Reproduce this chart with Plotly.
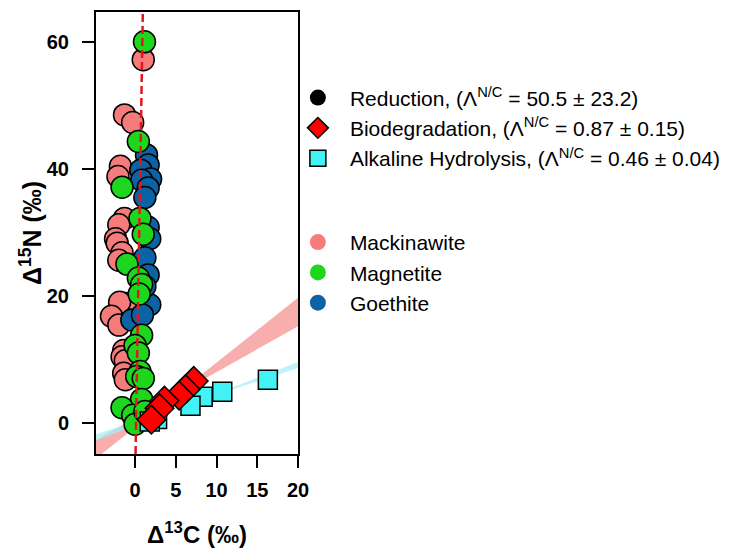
import numpy as np
import plotly.graph_objects as go

# ---------------- data ----------------
mack_x = [1.0, -1.3, -0.3, -1.8, -2.1, -1.3, -2.0, -2.4, -2.2, -1.6, -2.0, -1.2, -1.9, -2.9, -2.0, -1.4, -1.6, -1.2, -1.4, -1.2]
mack_y = [57.2, 48.5, 47.3, 40.4, 38.8, 32.2, 31.2, 29.0, 28.3, 26.8, 25.6, 18.8, 19.0, 16.8, 15.4, 11.4, 10.4, 9.8, 7.8, 6.8]

goet_x = [1.4, 1.6, 0.7, 1.9, 0.8, 1.6, 1.2, 1.6, 1.8, 1.2, 1.6, 1.8, -0.4, 0.9, 1.2, 1.8, 0.9]
goet_y = [42.2, 40.6, 39.8, 38.4, 38.2, 37.0, 35.5, 30.8, 29.0, 26.0, 23.3, 18.6, 16.2, 17.0, 21.5, 2.4, 0.6]

magn_x = [1.15, 0.4, -1.6, 0.6, 1.0, -1.0, 0.4, 0.8, 0.5, 0.8, 0.0, 0.4, 0.6, 0.2, 1.0, 0.8, -1.6, -0.3, 0.0, 1.2]
magn_y = [60.0, 44.3, 37.1, 32.2, 29.7, 25.0, 22.8, 21.8, 20.3, 13.8, 12.2, 11.0, 8.1, 7.3, 7.0, 3.7, 2.4, 1.2, -0.2, 1.8]

bio_x = [7.2, 6.2, 5.4, 3.6, 3.0, 2.0]
bio_y = [6.6, 5.3, 4.3, 3.5, 2.3, 0.5]

alk_x = [16.3, 10.7, 8.3, 6.8, 2.7, 1.8]
alk_y = [6.8, 4.9, 4.1, 2.7, 0.6, 0.2]

# regression parameters (Lambda N/C)
red_slope = 78.0      # steep dashed line
red_xint = 0.12
bio_slope, bio_err = 0.87, 0.15
bio_pivot = (5.0, 4.4)
alk_slope, alk_err = 0.46, 0.04
alk_pivot = (8.0, 3.6)

x_range = [-4.8, 20]
y_range = [-4.9, 64.7]
x_ticks = [0, 5, 10, 15, 20]
y_ticks = [0, 20, 40, 60]

legend1_names = ["Reduction, (\u039b<sup>N/C</sup> = 50.5 \u00b1 23.2)",
                 "Biodegradation, (\u039b<sup>N/C</sup> = 0.87 \u00b1 0.15)",
                 "Alkaline Hydrolysis, (\u039b<sup>N/C</sup> = 0.46 \u00b1 0.04)"]
legend2_names = ["Mackinawite", "Magnetite", "Goethite"]

PINK = "#f67c7c"
GREEN = "#1fd61f"
BLUE = "#0b63a6"
RED = "#ff0000"
CYAN = "#42f2f4"
FONT = "Liberation Sans, Arial, sans-serif"

fig = go.Figure()


def band(pivot, slope, err):
    xs = np.linspace(x_range[0], x_range[1], 60)
    y1 = pivot[1] + (slope - err) * (xs - pivot[0])
    y2 = pivot[1] + (slope + err) * (xs - pivot[0])
    return list(xs) + list(xs[::-1]), list(y1) + list(y2[::-1])


bx, by = band(bio_pivot, bio_slope, bio_err)
fig.add_trace(go.Scatter(x=bx, y=by, fill="toself", mode="lines", line=dict(width=0),
                         fillcolor="rgba(246,130,130,0.65)", showlegend=False, hoverinfo="skip"))
ax_, ay_ = band(alk_pivot, alk_slope, alk_err)
fig.add_trace(go.Scatter(x=ax_, y=ay_, fill="toself", mode="lines", line=dict(width=0),
                         fillcolor="rgba(160,240,246,0.7)", showlegend=False, hoverinfo="skip"))

mk = dict(size=22, line=dict(color="black", width=1.5))
fig.add_trace(go.Scatter(x=mack_x, y=mack_y, mode="markers", marker=dict(color=PINK, **mk), showlegend=False))
fig.add_trace(go.Scatter(x=goet_x, y=goet_y, mode="markers", marker=dict(color=BLUE, **mk), showlegend=False))
fig.add_trace(go.Scatter(x=magn_x, y=magn_y, mode="markers", marker=dict(color=GREEN, **mk), showlegend=False))
fig.add_trace(go.Scatter(x=alk_x, y=alk_y, mode="markers",
                         marker=dict(symbol="square", size=19, color=CYAN, line=dict(color="black", width=1.5)),
                         showlegend=False))
fig.add_trace(go.Scatter(x=bio_x, y=bio_y, mode="markers",
                         marker=dict(symbol="diamond", size=22, color=RED, line=dict(color="black", width=1.5)),
                         showlegend=False))

ry = np.linspace(y_range[0], y_range[1], 20)
fig.add_trace(go.Scatter(x=red_xint + ry / red_slope, y=ry, mode="lines",
                         line=dict(color="#e3161b", width=2.5, dash="8px,4px"),
                         showlegend=False, hoverinfo="skip"))

# legend entries
fig.add_trace(go.Scatter(x=[None], y=[None], mode="markers", name=legend1_names[0], legend="legend",
                         marker=dict(size=26, color="black")))
fig.add_trace(go.Scatter(x=[None], y=[None], mode="markers", name=legend1_names[1], legend="legend",
                         marker=dict(symbol="diamond", size=26, color=RED, line=dict(color="black", width=1.5))))
fig.add_trace(go.Scatter(x=[None], y=[None], mode="markers", name=legend1_names[2], legend="legend",
                         marker=dict(symbol="square", size=18, color=CYAN, line=dict(color="black", width=1.5))))
for nm, col in zip(legend2_names, [PINK, GREEN, BLUE]):
    fig.add_trace(go.Scatter(x=[None], y=[None], mode="markers", name=nm, legend="legend2",
                             marker=dict(size=24, color=col, line=dict(width=0))))

axis_common = dict(showline=True, linecolor="black", linewidth=2, mirror=True,
                   ticks="outside", ticklen=12, tickwidth=2, tickcolor="black",
                   showgrid=False, zeroline=False,
                   tickfont=dict(family=FONT, size=20, color="black", weight="bold"))

fig.update_layout(
    width=730, height=548,
    margin=dict(l=96, r=432, t=12, b=94, autoexpand=False),
    paper_bgcolor="white", plot_bgcolor="white",
    xaxis=dict(range=x_range, tickvals=x_ticks, ticklabelstandoff=5, **axis_common),
    yaxis=dict(range=y_range, tickvals=y_ticks, ticklabelstandoff=9, **axis_common),
    legend=dict(x=0.94, y=0.852, xanchor="left", yanchor="top", itemwidth=54, itemsizing="trace",
                font=dict(family=FONT, size=21, color="black"), bgcolor="rgba(0,0,0,0)",
                tracegroupgap=0),
    legend2=dict(x=0.94, y=0.525, xanchor="left", yanchor="top", itemwidth=54, itemsizing="trace",
                 font=dict(family=FONT, size=21, color="black"), bgcolor="rgba(0,0,0,0)"),
    annotations=[
        dict(text="<b>\u0394<sup>13</sup>C (\u2030)</b>", xref="paper", yref="paper", x=0.5, y=-0.178,
             xanchor="center", yanchor="middle", showarrow=False,
             font=dict(family=FONT, size=24, color="black")),
        dict(text="<b>\u0394<sup>15</sup>N (\u2030)</b>", xref="paper", yref="paper", x=-0.322, y=0.5,
             xanchor="center", yanchor="middle", showarrow=False, textangle=-90,
             font=dict(family=FONT, size=25, color="black")),
    ],
)

fig.write_html("out.html")
